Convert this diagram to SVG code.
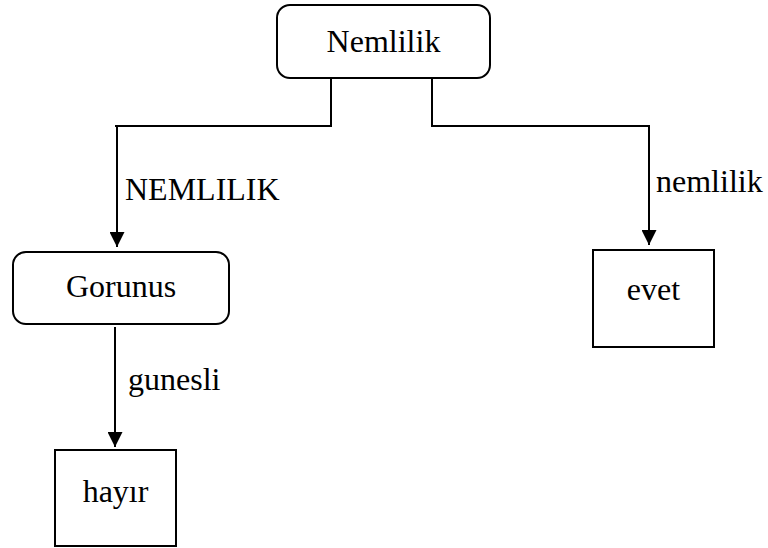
<svg xmlns="http://www.w3.org/2000/svg" width="768" height="548" viewBox="0 0 768 548">
<style>
.box{fill:#fff;stroke:#000;stroke-width:2}
.lbl{font-family:"Liberation Serif","Times New Roman",serif;font-size:32px;fill:#000}
.ln{fill:none;stroke:#000;stroke-width:2}
</style>
<defs>
<marker id="ah" viewBox="0 0 10 10" refX="10" refY="5" markerWidth="15" markerHeight="15" markerUnits="userSpaceOnUse" orient="auto">
<path d="M0,0 L10,5 L0,10 Z" fill="#000"/>
</marker>
</defs>
<g id="connectors">
<path class="ln" d="M331,78 V126 H115"/>
<path class="ln" d="M117,126 V247" marker-end="url(#ah)"/>
<path class="ln" d="M432,78 V126 H649 V245" marker-end="url(#ah)"/>
<path class="ln" d="M115,327 V447" marker-end="url(#ah)"/>
<text class="lbl" x="125" y="200">NEMLILIK</text>
<text class="lbl" x="656" y="192">nemlilik</text>
<text class="lbl" x="128" y="390">gunesli</text>
</g>
<g id="node-nemlilik">
<rect class="box" x="277" y="5" width="213" height="73" rx="13"/>
<text class="lbl" x="383.5" y="52" text-anchor="middle">Nemlilik</text>
</g>
<g id="node-gorunus">
<rect class="box" x="13" y="252" width="216" height="72" rx="13"/>
<text class="lbl" x="121" y="297" text-anchor="middle">Gorunus</text>
</g>
<g id="node-evet">
<rect class="box" x="593" y="250" width="121" height="97"/>
<text class="lbl" x="653.5" y="300" text-anchor="middle">evet</text>
</g>
<g id="node-hayir">
<rect class="box" x="55" y="450" width="121" height="96"/>
<text class="lbl" x="115.5" y="502" text-anchor="middle">hayır</text>
</g>
</svg>
